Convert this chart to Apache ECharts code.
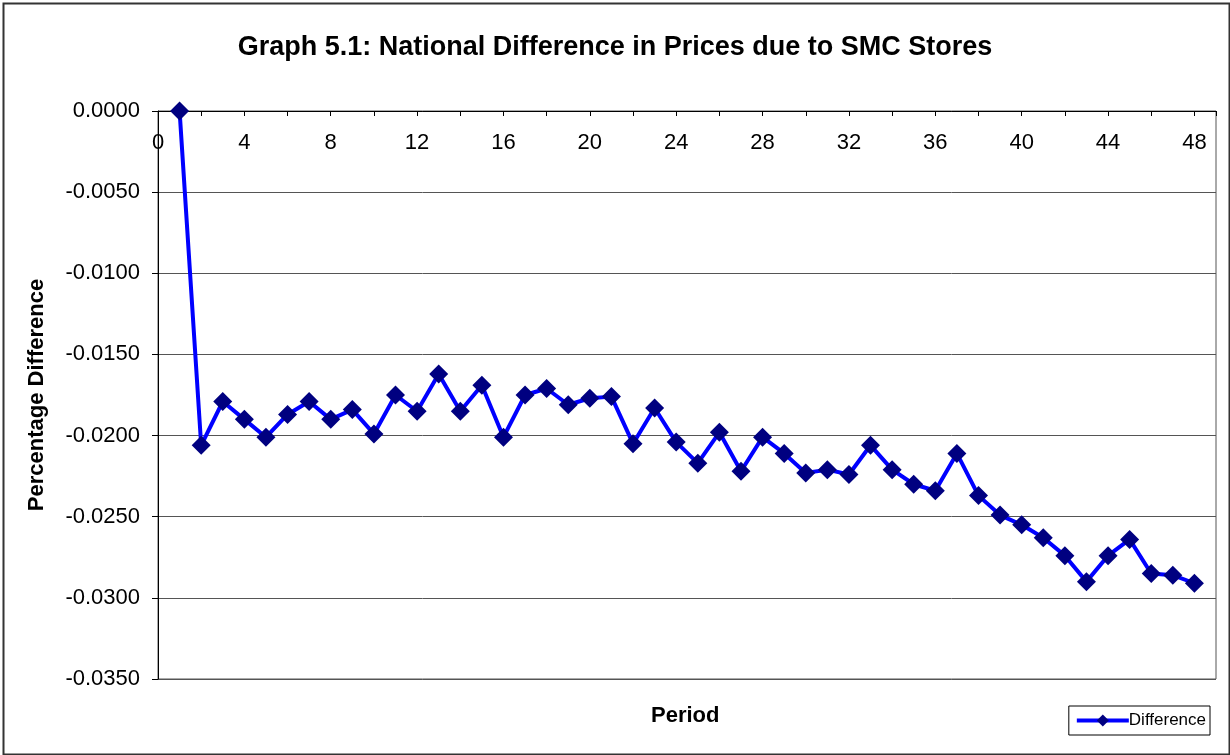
<!DOCTYPE html>
<html>
<head>
<meta charset="utf-8">
<script src="https://cdn.jsdelivr.net/npm/echarts@6/dist/echarts.min.js"></script>
<style>
html,body{margin:0;padding:0;background:#fff;}
#chart{width:1230px;height:755px;}
</style>
</head>
<body>
<div id="chart"></div>
<script>
const periods = [1,2,3,4,5,6,7,8,9,10,11,12,13,14,15,16,17,18,19,20,21,22,23,24,25,26,27,28,29,30,31,32,33,34,35,36,37,38,39,40,41,42,43,44,45,46,47,48];
const difference = [0.0000,-0.0206,-0.0179,-0.0190,-0.0201,-0.0187,-0.0179,-0.0190,-0.0184,-0.0199,-0.0175,-0.0185,
  -0.0162,-0.0185,-0.0169,-0.0201,-0.0175,-0.0171,-0.0181,-0.0177,-0.0176,-0.0205,-0.0183,-0.0204,
  -0.0217,-0.0198,-0.0222,-0.0201,-0.0211,-0.0223,-0.0221,-0.0224,-0.0206,-0.0221,-0.0230,-0.0234,
  -0.0211,-0.0237,-0.0249,-0.0255,-0.0263,-0.0274,-0.0290,-0.0274,-0.0264,-0.0285,-0.0286,-0.0291];
const titleText = 'Graph 5.1: National Difference in Prices due to SMC Stores';
const xName = 'Period';
const yName = 'Percentage Difference';
const seriesName = 'Difference';

const chart = echarts.init(document.getElementById('chart'), null, {renderer:'canvas'});
const font = 'Liberation Sans, Arial, sans-serif';
chart.setOption({
  backgroundColor:'#fff',
  animation:false,
  title:{text:titleText,left:'center',top:29,textStyle:{fontFamily:font,fontSize:27,fontWeight:'bold',color:'#000'}},
  grid:{left:158,right:14,top:111,bottom:76,show:true,borderColor:'#555',borderWidth:1,containLabel:false},
  legend:{right:20,top:706,orient:'horizontal',borderColor:'#000',borderWidth:1,padding:[6,4,6,6],
    itemWidth:52,itemHeight:15,lineStyle:{width:4},
    textStyle:{fontFamily:font,fontSize:17,color:'#000',padding:[0,0,0,-5]},
    data:[seriesName]},
  xAxis:{type:'value',min:0,max:49,interval:4,position:'top',
    axisLine:{onZero:false,lineStyle:{color:'#000',width:1}},
    axisTick:{show:true,inside:true,length:5,lineStyle:{color:'#000'}},
    minorTick:{show:true,splitNumber:2,length:5,lineStyle:{color:'#000'}},
    axisLabel:{inside:true,margin:21,showMaxLabel:false,fontFamily:font,fontSize:22,color:'#000',verticalAlign:'top'},
    splitLine:{show:false}},
  yAxis:{type:'value',min:-0.035,max:0,interval:0.005,
    name:yName,nameLocation:'middle',nameGap:110,nameRotate:90,
    nameTextStyle:{fontFamily:font,fontSize:22,fontWeight:'bold',color:'#000'},
    axisLine:{show:true,lineStyle:{color:'#000',width:1}},
    axisTick:{show:true,inside:false,length:6,lineStyle:{color:'#000'}},
    axisLabel:{margin:18,fontFamily:font,fontSize:22,color:'#000',
      formatter:v=>Math.abs(v)<1e-9?'0.0000':v.toFixed(4)},
    splitLine:{show:true,lineStyle:{color:'#555',width:1}}},
  graphic:[
    {type:'rect',left:1,top:1,shape:{width:1226,height:751},style:{fill:'none',stroke:'#333',lineWidth:2},silent:true,z:-1},
    {type:'text',left:651,top:705,style:{text:xName,font:'bold 22px '+font,fill:'#000'},silent:true}
  ],
  series:[{name:seriesName,type:'line',data:periods.map((p,i)=>[p,difference[i]]),
    symbol:'diamond',symbolSize:19,
    lineStyle:{color:'#0000FF',width:4},
    itemStyle:{color:'#000080'}}]
});
</script>
</body>
</html>
